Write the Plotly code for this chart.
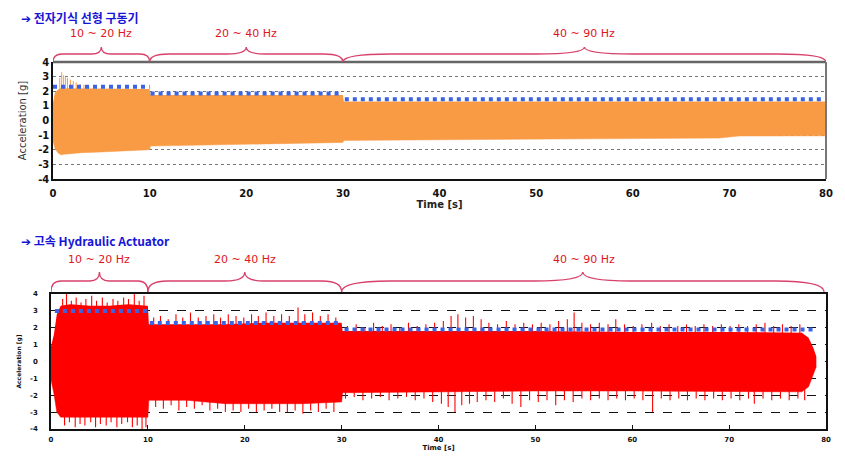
import plotly.graph_objects as go

# ---------------- data ----------------
seg_labels = ["10 ~ 20 Hz", "20 ~ 40 Hz", "40 ~ 90 Hz"]
seg_start = [0, 10, 30]
seg_end = [10, 30, 80]

x_ticks = [0, 10, 20, 30, 40, 50, 60, 70, 80]
y_ticks = [-4, -3, -2, -1, 0, 1, 2, 3, 4]

# Top: electromagnetic linear actuator, envelope of the acceleration signal [g]
em_t = [0, 0.2, 0.5, 0.8, 1.2, 2.0, 3.0, 5.0, 8.0, 9.9, 10.0, 10.1, 15, 20, 25, 29.9, 30.0, 30.1,
        40, 50, 60, 69, 71, 80]
em_up = [1.2, 1.9, 2.1, 2.2, 2.2, 2.2, 2.15, 2.15, 2.15, 2.15, 2.15, 1.75, 1.75, 1.75, 1.75, 1.75, 1.75, 1.3,
         1.3, 1.3, 1.3, 1.3, 1.3, 1.3]
em_lo = [-1.4, -1.9, -2.2, -2.35, -2.3, -2.25, -2.2, -2.15, -2.05, -2.0, -2.0, -1.75, -1.7, -1.62, -1.55, -1.5, -1.5, -1.36,
         -1.33, -1.28, -1.24, -1.2, -1.06, -1.05]
em_spk_t = [0.7, 0.9, 1.1, 1.3, 1.5, 1.8, 2.1, 2.4, 2.8, 3.2, 3.7]
em_spk_v = [2.9, 3.3, 3.1, 3.0, 2.9, 2.8, 2.7, 2.6, 2.5, 2.45, 2.35]
em_pk_x0 = [0.0, 10.1, 30.2]
em_pk_x1 = [10.0, 29.6, 79.5]
em_pk_y = [2.3, 1.85, 1.45]

# Bottom: high-speed hydraulic actuator, body envelope [g]
hy_t = [0, 0.3, 0.6, 1.0, 2, 4, 6, 8, 9.9, 10.0, 10.1, 14, 18, 22, 26, 29.9, 30.0, 30.1,
        40, 50, 60, 70, 77.5, 78.2, 78.7, 79.0]
hy_up = [0.9, 1.6, 2.8, 3.3, 3.4, 3.3, 3.3, 3.4, 3.3, 3.3, 2.2, 2.2, 2.2, 2.3, 2.3, 2.3, 2.3, 1.8,
         1.8, 1.8, 1.75, 1.75, 1.7, 1.4, 0.8, 0.3]
hy_lo = [-1.1, -1.9, -3.0, -3.3, -3.3, -3.3, -3.3, -3.3, -3.3, -3.3, -2.3, -2.3, -2.5, -2.5, -2.5, -2.4, -2.4, -1.85,
         -1.8, -1.75, -1.75, -1.8, -1.8, -1.5, -0.8, -0.3]
hy_spk_up_t = [1.2, 1.6, 2.1, 2.6, 3.1, 3.6, 4.2, 4.7, 5.3, 5.8, 6.4, 6.9, 7.5, 8.0, 8.6, 9.1, 9.6,
               10.6, 11.3, 12.1, 12.9, 13.6, 14.4, 15.2, 16.0, 16.8, 17.5, 18.3, 19.1, 19.9, 20.7, 21.4,
               22.2, 23.0, 23.8, 24.6, 25.5, 26.2, 27.0, 27.8, 28.6, 29.4,
               30.6, 31.5, 32.4, 33.3, 34.2, 35.1, 36.0, 36.9, 37.8, 38.7, 39.6, 40.5, 41.3, 42.0, 42.8,
               43.6, 44.4, 45.2, 46.1, 47.0, 47.9, 48.8, 49.7, 50.6, 51.5, 52.4, 53.3, 54.0, 54.8, 55.7,
               56.6, 57.5, 58.3, 59.2, 60.1, 61.0, 62.0, 62.9, 63.8, 64.7, 65.6, 66.5, 67.4, 68.3, 69.2,
               70.1, 71.0, 71.9, 72.8, 73.7, 74.6, 75.5, 76.4, 77.3]
hy_spk_up_v = [3.7, 4.0, 3.6, 3.8, 3.5, 3.7, 3.9, 3.6, 3.8, 3.5, 3.7, 3.6, 3.8, 3.7, 4.0, 3.6, 3.9,
               2.6, 2.7, 2.5, 2.8, 2.6, 2.9, 2.6, 2.7, 2.8, 2.6, 2.8, 2.7, 2.6, 2.8, 2.7,
               2.9, 2.7, 2.8, 2.7, 3.2, 2.8, 2.9, 2.7, 2.8, 2.6,
               2.1, 2.2, 2.0, 2.3, 2.1, 2.2, 2.0, 2.3, 2.1, 2.2, 2.3, 2.4, 2.7, 2.8, 2.6,
               2.7, 2.5, 2.3, 2.2, 2.4, 2.2, 2.3, 2.2, 2.3, 2.2, 2.4, 2.5, 2.9, 2.3, 2.2,
               2.3, 2.2, 2.5, 2.2, 2.1, 2.2, 2.3, 2.1, 2.2, 2.1, 2.2, 2.1, 2.2, 2.1, 2.2,
               2.1, 2.2, 2.1, 2.2, 2.3, 2.1, 2.2, 2.1, 2.2]
hy_spk_lo_t = [1.4, 1.9, 2.5, 3.0, 3.5, 4.1, 4.6, 5.1, 5.7, 6.2, 6.8, 7.3, 7.9, 8.4, 8.9, 9.4, 9.8,
               10.8, 11.6, 12.4, 13.2, 14.0, 14.8, 15.6, 16.4, 17.2, 18.0, 18.8, 19.6, 20.4, 21.2, 22.0,
               22.8, 23.6, 24.4, 25.2, 26.0, 26.8, 27.6, 28.4, 29.2,
               30.4, 31.3, 32.2, 33.1, 34.0, 34.9, 35.8, 36.7, 37.6, 38.5, 39.4, 40.3, 41.0, 41.7, 42.4,
               43.2, 44.0, 44.9, 45.8, 46.7, 47.6, 48.5, 49.4, 50.3, 51.2, 52.1, 53.0, 53.9, 54.8, 55.7,
               56.6, 57.5, 58.4, 59.3, 60.2, 61.1, 62.1, 63.0, 63.9, 64.8, 65.7, 66.6, 67.5, 68.4, 69.3,
               70.2, 71.1, 72.0, 72.6, 73.5, 74.4, 75.3, 76.2, 77.1, 77.8]
hy_spk_lo_v = [-3.8, -3.6, -3.9, -3.7, -3.8, -3.6, -3.9, -3.7, -3.8, -3.6, -3.9, -3.7, -3.6, -3.9, -3.8, -4.0, -3.9,
               -2.7, -2.8, -2.6, -2.9, -2.7, -2.8, -2.6, -2.9, -2.8, -3.0, -2.9, -3.0, -2.8, -3.0, -2.9,
               -2.8, -3.0, -3.0, -2.9, -3.1, -2.9, -3.0, -2.8, -3.0,
               -2.2, -2.1, -2.3, -2.2, -2.1, -2.3, -2.2, -2.1, -2.3, -2.2, -2.4, -2.5, -2.7, -3.0, -2.6,
               -2.5, -2.4, -2.3, -2.4, -2.2, -2.5, -2.7, -2.3, -2.4, -2.3, -2.6, -2.3, -2.4, -2.2, -2.3,
               -2.2, -2.3, -2.2, -2.3, -2.2, -2.3, -3.0, -2.2, -2.3, -2.2, -2.3, -2.2, -2.3, -2.2, -2.3,
               -2.2, -2.3, -2.2, -2.5, -2.2, -2.3, -2.2, -2.3, -2.2, -2.3]
hy_pk_x0 = [0.4, 10.2, 30.3]
hy_pk_x1 = [10.0, 29.8, 79.0]
hy_pk_y = [3.0, 2.28, 1.9]

# ---------------- styling / layout helpers ----------------
OFF = 8                      # page body margin of the html page
W, H = 845 - OFF, 461 - OFF
ORANGE = "#f99b45"
RED = "#ff0000"
BLUE = "#3a63e6"
BRACE = "#d8416a"
LABEL_RED = "#e0161c"
TITLE_BLUE = "#1515d8"


def px_x(p):
    return (p - OFF) / W


def px_y(p):
    return 1 - (p - OFF) / H


top_dom_x = [px_x(53), px_x(826)]
top_dom_y = [px_y(179), px_y(62)]
bot_dom_x = [px_x(51), px_x(826)]
bot_dom_y = [px_y(429), px_y(294)]


def spikes(ts, vs):
    xs, ys = [], []
    for t, v in zip(ts, vs):
        xs += [t, t, None]
        ys += [0, v, None]
    return xs, ys


def segs(x0s, x1s, ys):
    xs, yy = [], []
    for a, b, y in zip(x0s, x1s, ys):
        xs += [a, b, None]
        yy += [y, y, None]
    return xs, yy


fig = go.Figure()

# top chart
fig.add_trace(go.Scatter(x=em_t, y=em_up, mode="lines", line=dict(width=0, color=ORANGE),
                         xaxis="x", yaxis="y", showlegend=False, hoverinfo="skip"))
fig.add_trace(go.Scatter(x=em_t, y=em_lo, mode="lines", line=dict(width=0.5, color=ORANGE),
                         fill="tonexty", fillcolor=ORANGE, xaxis="x", yaxis="y", showlegend=False))
sx, sy = spikes(em_spk_t, em_spk_v)
fig.add_trace(go.Scatter(x=sx, y=sy, mode="lines", line=dict(width=1, color=ORANGE),
                         xaxis="x", yaxis="y", showlegend=False))
bx, by = segs(em_pk_x0, em_pk_x1, em_pk_y)
fig.add_trace(go.Scatter(x=bx, y=by, mode="lines", line=dict(width=4, color=BLUE, dash="dot"),
                         xaxis="x", yaxis="y", showlegend=False))

# bottom chart
fig.add_trace(go.Scatter(x=hy_t, y=hy_up, mode="lines", line=dict(width=0, color=RED),
                         xaxis="x2", yaxis="y2", showlegend=False, hoverinfo="skip"))
fig.add_trace(go.Scatter(x=hy_t, y=hy_lo, mode="lines", line=dict(width=0.5, color=RED),
                         fill="tonexty", fillcolor=RED, xaxis="x2", yaxis="y2", showlegend=False))
ux, uy = spikes(hy_spk_up_t, hy_spk_up_v)
lx, ly = spikes(hy_spk_lo_t, hy_spk_lo_v)
fig.add_trace(go.Scatter(x=ux + lx, y=uy + ly, mode="lines", line=dict(width=1.1, color=RED),
                         xaxis="x2", yaxis="y2", showlegend=False))
bx2, by2 = segs(hy_pk_x0, hy_pk_x1, hy_pk_y)
fig.add_trace(go.Scatter(x=bx2, y=by2, mode="lines", line=dict(width=4, color=BLUE, dash="dot"),
                         xaxis="x2", yaxis="y2", showlegend=False))

tick_font_top = dict(family="DejaVu Sans", size=10, color="#111")
tick_font_bot = dict(family="DejaVu Sans", size=7, color="#111")

fig.update_layout(
    width=W, height=H, margin=dict(l=0, r=0, t=0, b=0),
    paper_bgcolor="white", plot_bgcolor="white",
    xaxis=dict(domain=top_dom_x, anchor="y", range=[0, 80], tickvals=x_ticks,
               ticktext=[f"<b>{v}</b>" for v in x_ticks], tickfont=tick_font_top,
               showgrid=False, zeroline=False, showline=True, linecolor="#111", linewidth=1.5,
               ticks="", automargin=False, ticklabelstandoff=4,
               title=dict(text="<b>Time [s]</b>", font=dict(family="DejaVu Sans", size=10, color="#222"),
                          standoff=3)),
    yaxis=dict(domain=top_dom_y, anchor="x", range=[-4, 4], tickvals=y_ticks,
               ticktext=[f"<b>{v}</b>" for v in y_ticks], tickfont=tick_font_top,
               showgrid=True, gridcolor="#777", griddash="dot", gridwidth=1, zeroline=False,
               showline=True, linecolor="#111", linewidth=1.5, ticks="", automargin=False,
               title=dict(text="Acceleration [g]", font=dict(family="DejaVu Sans", size=10, color="#333"),
                          standoff=10)),
    xaxis2=dict(domain=bot_dom_x, anchor="y2", range=[0, 80], tickvals=x_ticks,
                ticktext=[f"<b>{v}</b>" for v in x_ticks], tickfont=tick_font_bot,
                showgrid=False, zeroline=False, showline=True, linecolor="#111", linewidth=1.5,
                mirror=True, ticks="inside", ticklen=4, tickcolor="#111", automargin=False,
                ticklabelstandoff=3,
                title=dict(text="<b>Time [s]</b>", font=dict(family="DejaVu Sans", size=7, color="#111"),
                           standoff=1)),
    yaxis2=dict(domain=bot_dom_y, anchor="x2", range=[-4, 4], tickvals=y_ticks,
                ticktext=[f"<b>{v}</b>" for v in y_ticks], tickfont=tick_font_bot,
                showgrid=True, gridcolor="#111", griddash="dash", gridwidth=1, zeroline=False,
                showline=True, linecolor="#111", linewidth=1.5, mirror=True, ticks="",
                automargin=False, ticklabelstandoff=10,
                title=dict(text="<b>Acceleration [g]</b>", font=dict(family="DejaVu Sans", size=6, color="#111"),
                           standoff=8)),
)

# top/right frame of the top chart (gray)
fig.add_shape(type="line", xref="paper", yref="paper", x0=top_dom_x[0], x1=top_dom_x[1],
              y0=top_dom_y[1], y1=top_dom_y[1], line=dict(color="#666", width=2.5))
fig.add_shape(type="line", xref="paper", yref="paper", x0=top_dom_x[1], x1=top_dom_x[1],
              y0=top_dom_y[0], y1=top_dom_y[1], line=dict(color="#777", width=2))


def brace(a, b, y_end, y_h, y_tip, r):
    m = (a + b) / 2
    return (f"M {a},{y_end} Q {a},{y_h} {a + r},{y_h} L {m - r},{y_h} "
            f"Q {m},{y_h} {m},{y_tip} Q {m},{y_h} {m + r},{y_h} L {b - r},{y_h} "
            f"Q {b},{y_h} {b},{y_end}")


label_font = dict(family="DejaVu Sans", size=11, color=LABEL_RED)
for i, (a, b) in enumerate(zip(seg_start, seg_end)):
    r = 0.1 * (b - a)
    fig.add_shape(type="path", xref="x", yref="paper",
                  path=brace(a, b, px_y(62), px_y(54), px_y(47), r),
                  line=dict(color=BRACE, width=1.3))
    fig.add_annotation(x=(a + b) / 2, xref="x", y=px_y(34), yref="paper", text=seg_labels[i],
                       showarrow=False, font=label_font, xanchor="center", yanchor="middle",
                       borderpad=0)
    bb = min(b, 79.8)
    fig.add_shape(type="path", xref="x2", yref="paper",
                  path=brace(a, bb, px_y(292), px_y(281), px_y(272), r),
                  line=dict(color=BRACE, width=1.3))
    fig.add_annotation(x=(a + b) / 2, xref="x2", y=px_y(259), yref="paper", text=seg_labels[i],
                       showarrow=False, font=label_font, xanchor="center", yanchor="middle",
                       borderpad=0)

title_font = dict(family="Noto Sans CJK KR, DejaVu Sans", size=12, color=TITLE_BLUE)
fig.add_annotation(x=px_x(20), y=1, xref="paper", yref="paper", xanchor="left",
                   yanchor="top", showarrow=False, borderpad=0,
                   text="<b>➔ 전자기식 선형 구동기</b>", font=title_font)
fig.add_annotation(x=px_x(20), y=px_y(241), xref="paper", yref="paper", xanchor="left",
                   yanchor="middle", showarrow=False, borderpad=0,
                   text="<b>➔ 고속 Hydraulic Actuator</b>", font=title_font)

fig.write_html("out.html")
